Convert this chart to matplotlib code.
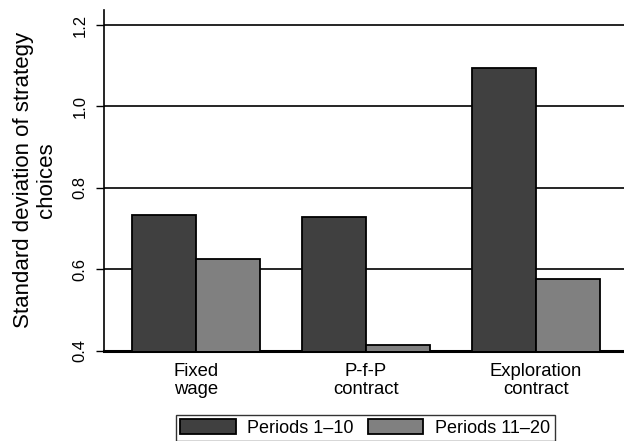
import numpy as np
import matplotlib.pyplot as plt

plt.rcParams["font.family"] = ["Liberation Sans", "DejaVu Sans"]

categories = ["Fixed\nwage", "P-f-P\ncontract", "Exploration\ncontract"]
early = [0.733, 0.728, 1.095]
late = [0.625, 0.415, 0.576]
series_names = ["Periods 1\u201310", "Periods 11\u201320"]
yticks = [0.4, 0.6, 0.8, 1.0, 1.2]

fig = plt.figure(figsize=(6.24, 4.41), dpi=100)
ax = fig.add_axes([0.1671, 0.2048, 0.8329, 0.7726])

x = np.arange(len(categories))
w = 0.376
ax.bar(x - w / 2, early, w, bottom=0, color="#404040", edgecolor="black",
       linewidth=1.3, label=series_names[0], zorder=3)
ax.bar(x + w / 2, late, w, bottom=0, color="#808080", edgecolor="black",
       linewidth=1.3, label=series_names[1], zorder=3)

ax.set_ylim(0.4, 1.237)
ax.set_xlim(-0.538, 2.52)
ax.set_yticks(yticks)
ax.set_yticklabels([f"{v:.1f}" for v in yticks], rotation=90, va="center")
ax.yaxis.grid(True, color="black", linewidth=1.2, zorder=0)
ax.tick_params(axis="y", length=6, width=1, labelsize=12, pad=6)
ax.set_xticks(x)
ax.set_xticklabels(categories, fontsize=13.3, linespacing=1.1)
ax.tick_params(axis="x", length=0, pad=9)
ax.set_ylabel("Standard deviation of strategy\nchoices", fontsize=16,
              labelpad=11, linespacing=1.15)

for side in ["top", "right"]:
    ax.spines[side].set_visible(False)
ax.spines["left"].set_linewidth(1.2)
ax.spines["bottom"].set_linewidth(2.2)

leg = fig.legend(loc="upper center", bbox_to_anchor=(0.5857, 0.059), ncol=2,
                 fontsize=13, frameon=True, fancybox=False, edgecolor="black",
                 handlelength=3.05, handleheight=0.83, borderpad=0.25,
                 borderaxespad=0, columnspacing=0.8, handletextpad=0.66)
leg.get_frame().set_linewidth(1)

fig.savefig("out.png", dpi=100)
